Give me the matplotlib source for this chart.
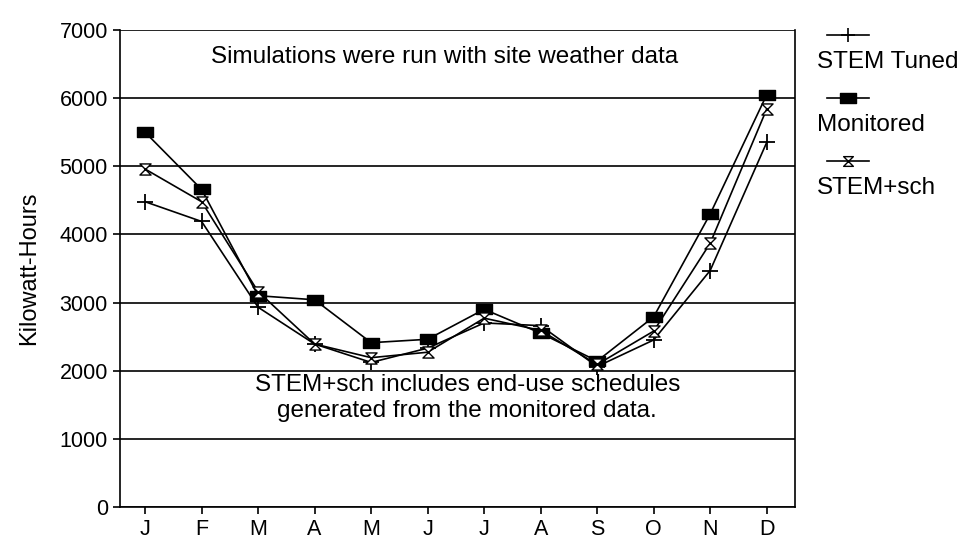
# Monthly kWh: monitored vs. STEM simulations
import matplotlib.pyplot as plt
from matplotlib.path import Path
from matplotlib.lines import Line2D

plt.rcParams['font.family'] = ['Liberation Sans', 'DejaVu Sans']

months = ['J', 'F', 'M', 'A', 'M', 'J', 'J', 'A', 'S', 'O', 'N', 'D']
stem_tuned = [4480, 4190, 2930, 2390, 2120, 2330, 2700, 2660, 2060, 2450, 3470, 5350]
monitored = [5500, 4660, 3100, 3040, 2410, 2460, 2900, 2550, 2140, 2790, 4300, 6050]
stem_sch = [4960, 4480, 3160, 2390, 2190, 2270, 2770, 2590, 2090, 2580, 3870, 5840]

# hourglass marker for STEM+sch, wide block for Monitored
hourglass = Path([(-1, 1), (1, 1), (-1, -1), (1, -1), (-1, 1)],
                 [Path.MOVETO, Path.LINETO, Path.LINETO, Path.LINETO, Path.CLOSEPOLY])
block = Path([(-1, -0.6), (1, -0.6), (1, 0.6), (-1, 0.6), (-1, -0.6)],
             [Path.MOVETO, Path.LINETO, Path.LINETO, Path.LINETO, Path.CLOSEPOLY])

fig = plt.figure(figsize=(9.73, 5.38), dpi=100)
ax = fig.add_axes([0.123, 0.058, 0.694, 0.886])

x = range(len(months))
ax.plot(x, stem_tuned, color='black', lw=1.2, marker='+', ms=11, mew=1.3)
ax.plot(x, monitored, color='black', lw=1.2, marker=block, ms=12, mfc='black')
ax.plot(x, stem_sch, color='black', lw=1.2, marker=hourglass, ms=8, mfc='white', mew=1.0)

ax.set_xlim(-0.45, 11.5)
ax.set_ylim(0, 7000)
ax.set_yticks(range(0, 7001, 1000))
ax.set_xticks(list(x))
ax.set_xticklabels(months)
ax.yaxis.grid(True, color='black', lw=1.2)
ax.set_axisbelow(True)
for s in ax.spines.values():
    s.set_linewidth(1.2)
ax.spines['top'].set_visible(False)
ax.tick_params(axis='both', labelsize=15.5, length=5, width=1.2, direction='out')
ax.set_ylabel('Kilowatt-Hours', fontsize=17, labelpad=14)

ax.text(5.3, 6600, 'Simulations were run with site weather data',
        ha='center', va='center', fontsize=17.5)
ax.text(5.7, 1600, 'STEM+sch includes end-use schedules\ngenerated from the monitored data.',
        ha='center', va='center', fontsize=17.5, linespacing=1.25)

# legend: sample line above each label
legend_items = [('STEM Tuned', dict(marker='+', ms=10, mew=1.2)),
                ('Monitored', dict(marker=block, ms=11, mfc='black')),
                ('STEM+sch', dict(marker=hourglass, ms=7, mfc='white', mew=1.0))]
for i, (label, style) in enumerate(legend_items):
    y0 = 0.935 - i * 0.117
    fig.add_artist(Line2D([0.850, 0.893], [y0, y0], color='black', lw=1.2,
                          transform=fig.transFigure))
    fig.add_artist(Line2D([0.8715], [y0], color='black', ls='none',
                          transform=fig.transFigure, **style))
    fig.text(0.840, y0 - 0.05, label, fontsize=17.5, va='center', ha='left')

fig.savefig('out.png', dpi=100)
